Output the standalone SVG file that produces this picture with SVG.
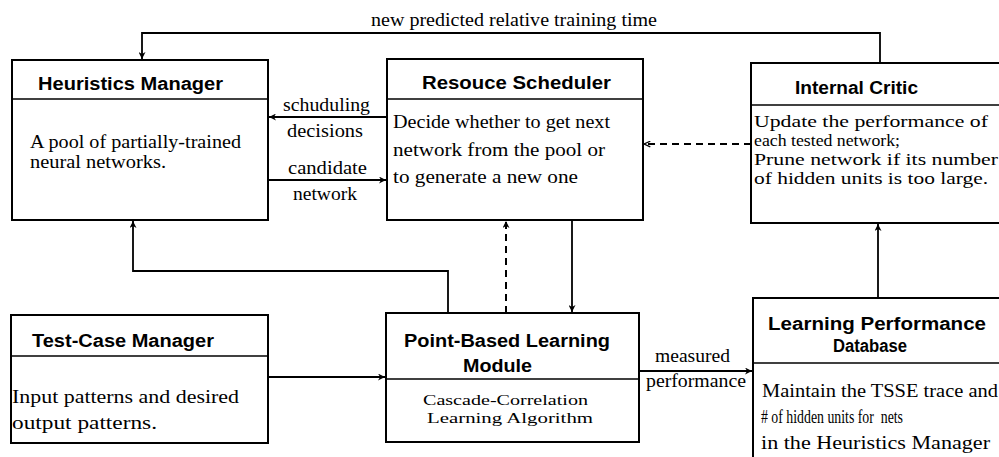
<svg xmlns="http://www.w3.org/2000/svg" width="999" height="457" viewBox="0 0 999 457">
  <style>
    .box { fill: #fff; stroke: #000; stroke-width: 2; }
    .div { stroke: #000; stroke-width: 1.5; fill: none; }
    .hdr { font-family: "Liberation Sans", Arial, sans-serif; font-weight: bold; font-size: 18px; fill: #000; }
    .txt { font-family: "Liberation Serif", "Times New Roman", serif; font-size: 19.5px; fill: #000; }
    .sm { font-size: 16px; }
    .xs { font-size: 15.5px; }
    .lbl { font-family: "Liberation Serif", "Times New Roman", serif; font-size: 19px; fill: #000; }
    .wire { stroke: #000; stroke-width: 1.8; fill: none; }
    .dash { stroke: #000; stroke-width: 2; fill: none; stroke-dasharray: 7 5; }
  </style>
  <defs>
    <marker id="head" viewBox="0 0 10 10" refX="10" refY="5" markerWidth="9" markerHeight="7" markerUnits="userSpaceOnUse" orient="auto">
      <path d="M0,0 L10,5 L0,10 L3,5 Z" fill="#000"/>
    </marker>
    <marker id="openhead" viewBox="0 0 10 10" refX="10" refY="5" markerWidth="9" markerHeight="7" markerUnits="userSpaceOnUse" orient="auto">
      <path d="M1,1 L10,5 L1,9" fill="none" stroke="#000" stroke-width="1.8"/>
    </marker>
  </defs>

  <rect width="999" height="457" fill="#fff"/>

  <!-- connectors -->
  <g id="connectors">
    <!-- feedback from the critic to the heuristics manager -->
    <polyline class="wire" points="880,63 880,33 142,33 142,59" marker-end="url(#head)"/>
    <text class="lbl" x="371" y="26" textLength="286" lengthAdjust="spacingAndGlyphs">new predicted relative training time</text>

    <!-- scheduler <-> heuristics manager -->
    <line class="wire" x1="387" y1="117" x2="269" y2="117" marker-end="url(#head)"/>
    <text class="lbl" x="283" y="111" textLength="87" lengthAdjust="spacingAndGlyphs">schuduling</text>
    <text class="lbl" x="287" y="137" textLength="76" lengthAdjust="spacingAndGlyphs">decisions</text>
    <line class="wire" x1="268" y1="180" x2="386" y2="180" marker-end="url(#head)"/>
    <text class="lbl" x="288" y="174" textLength="79" lengthAdjust="spacingAndGlyphs">candidate</text>
    <text class="lbl" x="293" y="200" textLength="64" lengthAdjust="spacingAndGlyphs">network</text>

    <!-- critic -> scheduler (dashed) -->
    <line class="dash" x1="751" y1="144" x2="644" y2="144" marker-end="url(#openhead)"/>

    <!-- learning module -> heuristics manager -->
    <polyline class="wire" points="448,313 448,271 133,271 133,221" marker-end="url(#head)"/>

    <!-- learning module <-> scheduler -->
    <line class="dash" x1="506" y1="313" x2="506" y2="221" marker-end="url(#head)"/>
    <line class="wire" x1="572" y1="220" x2="572" y2="312" marker-end="url(#head)"/>

    <!-- test cases -> learning module -->
    <line class="wire" x1="268" y1="377" x2="385" y2="377" marker-end="url(#head)"/>

    <!-- learning module -> performance database -->
    <line class="wire" x1="639" y1="371" x2="752" y2="371" marker-end="url(#head)"/>
    <text class="lbl" x="655" y="362" textLength="75" lengthAdjust="spacingAndGlyphs">measured</text>
    <text class="lbl" x="646" y="387" textLength="100" lengthAdjust="spacingAndGlyphs">performance</text>

    <!-- performance database -> critic -->
    <line class="wire" x1="878" y1="298" x2="878" y2="224" marker-end="url(#head)"/>
  </g>

  <!-- Heuristics Manager -->
  <g id="heuristics-manager">
    <rect class="box" x="12" y="60" width="256" height="160"/>
    <line class="div" x1="12" y1="99" x2="268" y2="99"/>
    <text class="hdr" x="38" y="90" textLength="185" lengthAdjust="spacingAndGlyphs">Heuristics Manager</text>
    <text class="txt" x="30" y="148" textLength="211" lengthAdjust="spacingAndGlyphs">A pool of partially-trained</text>
    <text class="txt" x="30" y="168" textLength="136" lengthAdjust="spacingAndGlyphs">neural networks.</text>
  </g>

  <!-- Resource Scheduler -->
  <g id="resource-scheduler">
    <rect class="box" x="387" y="59" width="256" height="161"/>
    <line class="div" x1="387" y1="99" x2="643" y2="99"/>
    <text class="hdr" x="422" y="89" textLength="189" lengthAdjust="spacingAndGlyphs">Resouce Scheduler</text>
    <text class="txt" x="393" y="128" textLength="217" lengthAdjust="spacingAndGlyphs">Decide whether to get next</text>
    <text class="txt" x="393" y="156" textLength="212" lengthAdjust="spacingAndGlyphs">network from the pool or</text>
    <text class="txt" x="393" y="183" textLength="185" lengthAdjust="spacingAndGlyphs">to generate a new one</text>
  </g>

  <!-- Internal Critic -->
  <g id="internal-critic">
    <rect class="box" x="751" y="63" width="260" height="160"/>
    <line class="div" x1="751" y1="105" x2="1011" y2="105"/>
    <text class="hdr" x="795" y="94" textLength="123" lengthAdjust="spacingAndGlyphs">Internal Critic</text>
    <text class="txt sm" x="754" y="127" textLength="234" lengthAdjust="spacingAndGlyphs">Update the performance of</text>
    <text class="txt sm" x="754" y="146" textLength="146" lengthAdjust="spacingAndGlyphs">each tested network;</text>
    <text class="txt sm" x="754" y="165" textLength="244" lengthAdjust="spacingAndGlyphs">Prune network if its number</text>
    <text class="txt sm" x="754" y="184" textLength="234" lengthAdjust="spacingAndGlyphs">of hidden units is too large.</text>
  </g>

  <!-- Test-Case Manager -->
  <g id="test-case-manager">
    <rect class="box" x="11" y="315" width="257" height="128"/>
    <line class="div" x1="11" y1="356" x2="268" y2="356"/>
    <text class="hdr" x="32" y="347" textLength="182" lengthAdjust="spacingAndGlyphs">Test-Case Manager</text>
    <text class="txt" x="12" y="403" textLength="227" lengthAdjust="spacingAndGlyphs">Input patterns and desired</text>
    <text class="txt" x="12" y="429" textLength="145" lengthAdjust="spacingAndGlyphs">output patterns.</text>
  </g>

  <!-- Point-Based Learning Module -->
  <g id="learning-module">
    <rect class="box" x="386" y="313" width="253" height="129"/>
    <line class="div" x1="386" y1="379" x2="639" y2="379"/>
    <text class="hdr" x="404" y="347" textLength="206" lengthAdjust="spacingAndGlyphs">Point-Based Learning</text>
    <text class="hdr" x="463" y="372" textLength="69" lengthAdjust="spacingAndGlyphs">Module</text>
    <text class="txt xs" x="423" y="405" textLength="165" lengthAdjust="spacingAndGlyphs">Cascade-Correlation</text>
    <text class="txt xs" x="427" y="423" textLength="166" lengthAdjust="spacingAndGlyphs">Learning Algorithm</text>
  </g>

  <!-- Learning Performance Database -->
  <g id="performance-database">
    <rect class="box" x="753" y="298" width="260" height="170"/>
    <line class="div" x1="753" y1="363" x2="1013" y2="363"/>
    <text class="hdr" x="768" y="330" textLength="218" lengthAdjust="spacingAndGlyphs">Learning Performance</text>
    <text class="hdr" x="833" y="352" textLength="74" lengthAdjust="spacingAndGlyphs">Database</text>
    <text class="txt" x="762" y="397" textLength="236" lengthAdjust="spacingAndGlyphs">Maintain the TSSE trace and</text>
    <text class="txt" x="761" y="423" textLength="142" lengthAdjust="spacingAndGlyphs"># of hidden units for&#160; nets</text>
    <text class="txt" x="761" y="449" textLength="229" lengthAdjust="spacingAndGlyphs">in the Heuristics Manager</text>
  </g>
</svg>
